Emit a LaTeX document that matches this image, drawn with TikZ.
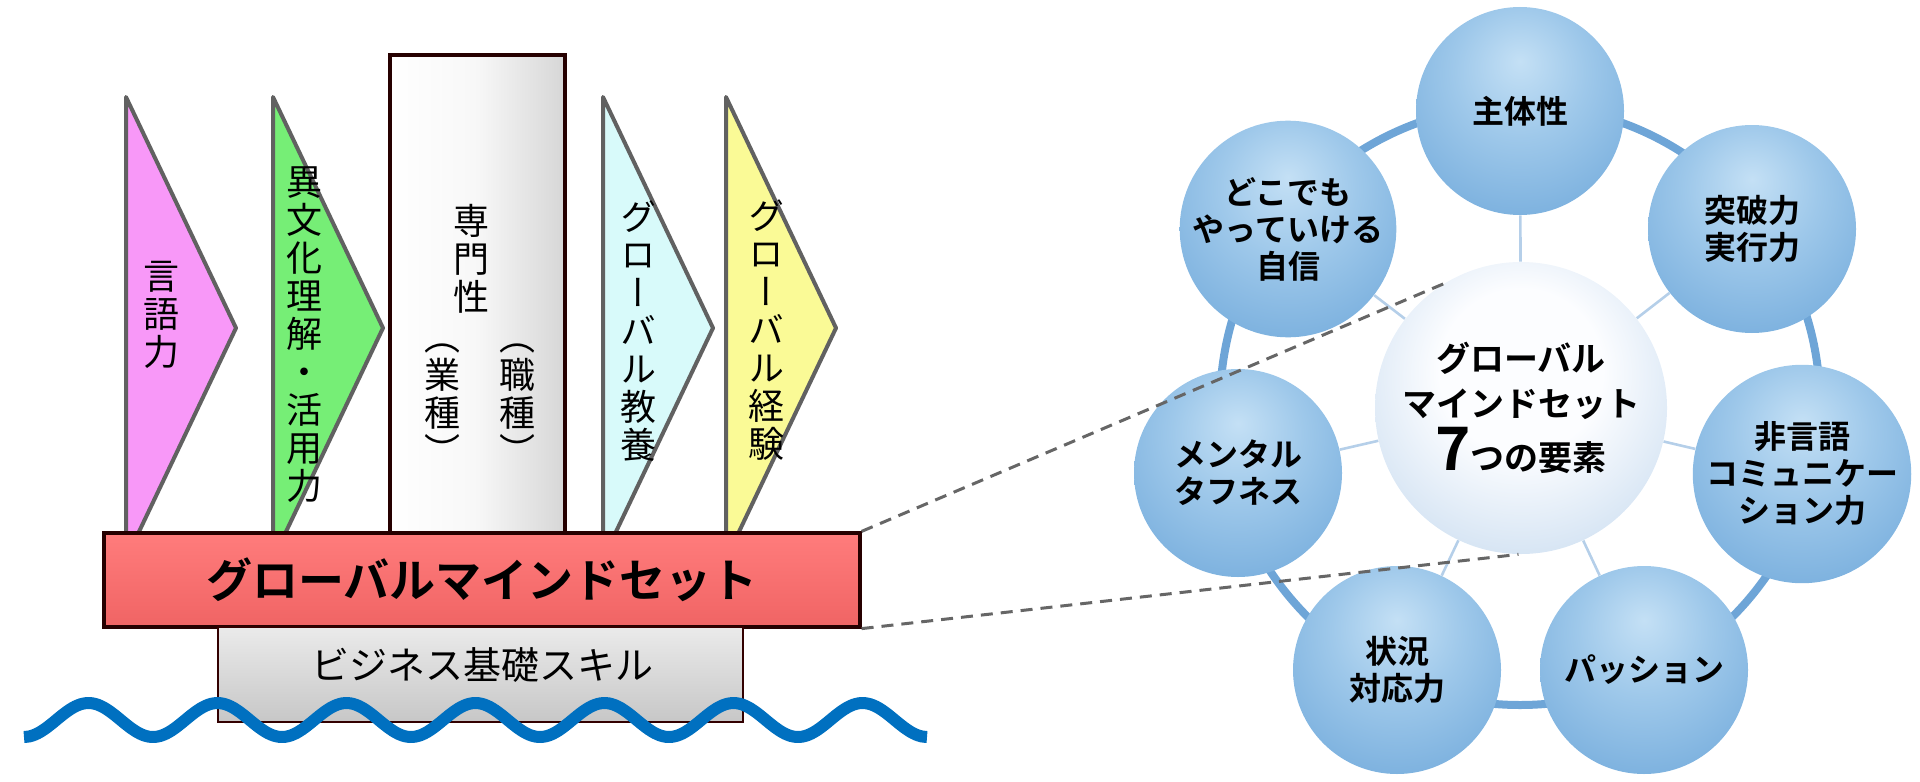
\documentclass[tikz,border=0pt]{standalone}
\usepackage{fontspec}
\setmainfont{Noto Sans CJK JP}[BoldFont={Noto Sans CJK JP Bold}]
\newfontfamily\tatefont{Noto Sans CJK JP}[RawFeature=+vert]
\usetikzlibrary{backgrounds}

\definecolor{bubbleHi}{RGB}{196,224,245}
\definecolor{bubbleIn}{RGB}{158,200,234}
\definecolor{bubbleMid}{RGB}{114,170,219}
\definecolor{bubbleOut}{RGB}{86,146,204}
\definecolor{hubIn}{RGB}{252,253,255}
\definecolor{hubOut}{RGB}{162,195,228}
\pgfdeclareradialshading{bubble}{\pgfpoint{0bp}{12bp}}{color(0bp)=(bubbleHi); color(16bp)=(bubbleIn); color(38bp)=(bubbleMid); color(52bp)=(bubbleOut); color(75bp)=(bubbleOut)}
\pgfdeclareradialshading{hubshade}{\pgfpoint{0bp}{8bp}}{color(0bp)=(hubIn); color(14bp)=(hubIn); color(52bp)=(hubOut); color(70bp)=(hubOut)}

\begin{document}
\begin{tikzpicture}[x=0.5pt, y=-0.5pt,
  tate/.style={font=\tatefont\fontsize{18}{19}\selectfont, align=center, inner sep=0pt},
  chevron/.style={draw=black!62, line width=2pt, line join=round},
  bubble/.style={circle, minimum size=104pt, inner sep=0pt, shade, shading=bubble,
    align=center, font=\bfseries\fontsize{16}{18.5}\selectfont},
  spoke/.style={draw=hubOut!80!white, line width=1.3pt},
  zoomline/.style={draw=black!60, line width=1.5pt, dash pattern=on 6pt off 4pt}]

  \useasboundingbox (0,0) rectangle (1920,781);

  % Draw the pillars first

  \definecolor{lang}{RGB}{248,152,248}
  \definecolor{cross}{RGB}{118,238,118}
  \definecolor{cult}{RGB}{216,250,250}
  \definecolor{exper}{RGB}{250,250,150}
  \foreach \left/\col in {126/lang, 273/cross, 603/cult, 726/exper}{
    \draw[chevron, fill=\col] (\left,97) -- ({\left+110},328) -- (\left,559) -- cycle;
  }

  \shade[left color=white, right color=black!16, middle color=white!97!black]
    (390,55) rectangle (565,560);
  \draw[draw=black!85!red, line width=1.6pt] (390,55) rectangle (565,560);

  \node[tate] (langtxt) at (161,315) {言\\語\\力};
  \node[tate] (crosstxt) at (304,335) {異\\文\\化\\理\\解\\・\\活\\用\\力};
  \node[tate] (spectxt) at (471,259) {専\\門\\性};
  \node[tate] (jobtxt) at (517,404) {（\\職\\種\\）};
  \node[tate] (indtxt) at (442,404) {（\\業\\種\\）};
  \node[tate] (culttxt) at (638,331) {グ\\ロ\\ー\\バ\\ル\\教\\養};
  \node[tate] (expertxt) at (766,330) {グ\\ロ\\ー\\バ\\ル\\経\\験};

  % Then the base

  \node[draw=black!85!red, line width=1.6pt, minimum width=378pt, minimum height=47pt,
    inner sep=0pt, top color={rgb,255:red,255;green,124;blue,124},
    bottom color={rgb,255:red,240;green,100;blue,100},
    font=\bfseries\fontsize{23}{23}\selectfont] (mind) at (482,580) {グローバルマインドセット};

  \node[draw=black!80!red, line width=1pt, minimum width=262.5pt, minimum height=47.5pt,
    inner sep=0pt, top color=black!8, bottom color=black!22] (biz) at (480.5,674.5) {};
  \node[font=\fontsize{19}{19}\selectfont] (biztxt) at (482,665) {ビジネス基礎スキル};

  \draw[draw={rgb,255:red,0;green,112;blue,192}, line width=6pt]
    plot[domain=24:927, samples=160, smooth] (\x,{720+17*cos((\x-24)*2.7907)});

  % The seven elements

  \node[circle, minimum size=146pt, inner sep=0pt, shade, shading=hubshade, align=center,
    font=\bfseries\fontsize{17}{22.5}\selectfont] (hub) at (1521,408)
    {グローバル\\マインドセット\\[3pt]{\fontsize{30}{30}\selectfont 7}つの要素};

  \node[bubble] (self) at (1520,111) {主体性};
  \node[bubble] (drive) at (1752,229) {突破力\\実行力};
  \node[bubble] (nonverb) at (1802,474) {非言語\\コミュニケー\\ション力};
  \node[bubble] (passion) at (1644,670) {パッション};
  \node[bubble] (adapt) at (1397,670) {状況\\対応力};
  \node[bubble] (mental) at (1238,473) {メンタル\\タフネス};
  \node[bubble] (confid) at (1288,229) {どこでも\\やっていける\\自信};

  \begin{pgfonlayer}{background}
    \coordinate (ringc) at (1520,405);
    \draw[draw={rgb,255:red,110;green,165;blue,215}, line width=4pt] (ringc) circle[radius=300];
    \foreach \elem in {self, drive, nonverb, passion, adapt, mental, confid}{
      \draw[spoke] (hub) -- (\elem);
    }
  \end{pgfonlayer}

  % Zoom lines last

  \draw[zoomline] (mind.north east) -- (hub.122);
  \draw[zoomline] (mind.south east) -- (hub.269);
\end{tikzpicture}
\end{document}
